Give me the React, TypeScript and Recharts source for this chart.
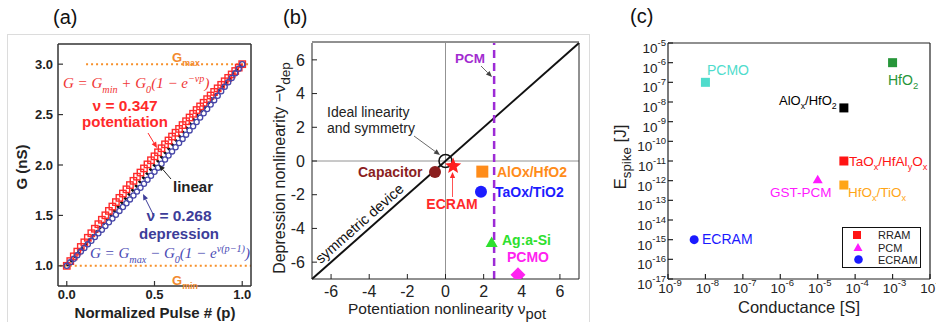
import React from "react";
import { ComposedChart, Scatter, XAxis, YAxis, ReferenceLine } from "recharts";

const FONT = "'Liberation Sans', Arial, sans-serif";
const SERIF = "'Liberation Serif', 'DejaVu Serif', serif";

// ---------- (a) conductance vs normalized pulse ----------
const pulse = [
  0, 0.02, 0.04, 0.06, 0.08, 0.1, 0.12, 0.14, 0.16, 0.18, 0.2, 0.22, 0.24, 0.26, 0.28, 0.3, 0.32,
  0.34, 0.36, 0.38, 0.4, 0.42, 0.44, 0.46, 0.48, 0.5, 0.52, 0.54, 0.56, 0.58, 0.6, 0.62, 0.64, 0.66,
  0.68, 0.7, 0.72, 0.74, 0.76, 0.78, 0.8, 0.82, 0.84, 0.86, 0.88, 0.9, 0.92, 0.94, 0.96, 0.98, 1.0,
];
const gPotentiation = [
  1.0, 1.047, 1.094, 1.141, 1.187, 1.233, 1.278, 1.323, 1.368, 1.413, 1.457, 1.501, 1.545, 1.588,
  1.632, 1.674, 1.717, 1.759, 1.801, 1.843, 1.884, 1.925, 1.966, 2.006, 2.047, 2.086, 2.126, 2.166,
  2.205, 2.243, 2.282, 2.32, 2.358, 2.396, 2.434, 2.471, 2.508, 2.545, 2.581, 2.617, 2.653, 2.689,
  2.725, 2.76, 2.795, 2.83, 2.864, 2.898, 2.932, 2.966, 3.0,
];
const gDepression = [
  1.0, 1.035, 1.07, 1.106, 1.141, 1.177, 1.213, 1.249, 1.285, 1.322, 1.358, 1.395, 1.432, 1.47,
  1.507, 1.545, 1.583, 1.621, 1.659, 1.698, 1.736, 1.775, 1.814, 1.854, 1.893, 1.933, 1.973, 2.013,
  2.054, 2.094, 2.135, 2.176, 2.218, 2.259, 2.301, 2.343, 2.385, 2.427, 2.47, 2.513, 2.556, 2.599,
  2.643, 2.687, 2.731, 2.775, 2.82, 2.864, 2.909, 2.955, 3.0,
];
const linearP = [0, 1];
const linearG = [1, 3];
const gMax = 3;
const gMin = 1;
const gMaxSpan = [0.11, 1.05];
const gMinSpan = [-0.04, 1.05];
const aXTicks = [0, 0.5, 1];
const aYTicks = [1, 1.5, 2, 2.5, 3];

// ---------- (b) nonlinearity map ----------
const bDevices = ["Capacitor", "ECRAM", "AlOx/HfO2", "TaOx/TiO2", "Ag:a-Si", "PCMO"];
const nuPot = [-0.55, 0.4, 1.93, 1.86, 2.42, 3.8];
const nuDep = [-0.65, -0.3, -0.63, -1.82, -4.85, -6.75];
const idealNuPot = [0];
const idealNuDep = [0];
const pcmNuPot = 2.55;
const diagNu = [-7, 7];
const bTicks = [-6, -4, -2, 0, 2, 4, 6];
const bMinorTicks = [-7, -5, -3, -1, 1, 3, 5, 7];

// ---------- (c) energy per spike vs conductance ----------
const cDevices = ["PCMO", "HfO2", "AlOx/HfO2", "TaOx/HfAlyOx", "HfOx/TiOx", "GST-PCM", "ECRAM"];
const conductance = [1e-8, 1e-3, 5e-5, 5e-5, 5e-5, 1e-5, 5e-9];
const eSpike = [1e-7, 1e-6, 5e-9, 1e-11, 6e-13, 1.1e-12, 1e-15];
const cXTicks = [1e-9, 1e-8, 1e-7, 1e-6, 1e-5, 1e-4, 1e-3, 1e-2];
const cYTicks = [1e-17, 1e-16, 1e-15, 1e-14, 1e-13, 1e-12, 1e-11, 1e-10, 1e-9, 1e-8, 1e-7, 1e-6, 1e-5];

// styles
const bStyle: Record<string, { color: string; shape: string }> = {
  Capacitor: { color: "#8b1e1e", shape: "circle" },
  ECRAM: { color: "#ff1f1f", shape: "star" },
  "AlOx/HfO2": { color: "#ff8c1a", shape: "square" },
  "TaOx/TiO2": { color: "#1c1cff", shape: "circle" },
  "Ag:a-Si": { color: "#2ee02e", shape: "triangle" },
  PCMO: { color: "#ff22f0", shape: "diamond" },
};
const cStyle: Record<string, { color: string; shape: string }> = {
  PCMO: { color: "#4fdccc", shape: "square" },
  HfO2: { color: "#27963a", shape: "square" },
  "AlOx/HfO2": { color: "#000000", shape: "square" },
  "TaOx/HfAlyOx": { color: "#ff1414", shape: "square" },
  "HfOx/TiOx": { color: "#ffa516", shape: "square" },
  "GST-PCM": { color: "#ff1aff", shape: "triangle" },
  ECRAM: { color: "#1a1aff", shape: "circle" },
};

const starPath = (cx: number, cy: number, R: number, r: number) => {
  let d = "";
  for (let i = 0; i < 10; i++) {
    const rad = i % 2 === 0 ? R : r;
    const a = -Math.PI / 2 + (i * Math.PI) / 5;
    d += (i === 0 ? "M" : "L") + (cx + rad * Math.cos(a)).toFixed(2) + "," + (cy + rad * Math.sin(a)).toFixed(2);
  }
  return d + "Z";
};

const marker = (shape: string, color: string, s: number) => (props: any) => {
  const { cx, cy } = props;
  if (cx == null || cy == null) return <g />;
  if (shape === "square")
    return <rect x={cx - s / 2} y={cy - s / 2} width={s} height={s} fill={color} />;
  if (shape === "circle") return <circle cx={cx} cy={cy} r={s / 2} fill={color} />;
  if (shape === "triangle") {
    const h = s * 0.87;
    return <path d={`M${cx},${cy - h * 0.6}L${cx + s / 2},${cy + h * 0.4}L${cx - s / 2},${cy + h * 0.4}Z`} fill={color} />;
  }
  if (shape === "diamond") {
    const r = s / 2;
    return <path d={`M${cx},${cy - r}L${cx + r},${cy}L${cx},${cy + r}L${cx - r},${cy}Z`} fill={color} />;
  }
  if (shape === "star") return <path d={starPath(cx, cy, s / 2, s / 4.6)} fill={color} />;
  return <g />;
};

type Part = { t: string; s?: "sub" | "sup" };
const rich = (parts: Part[], size: number, subScale = 0.68) => {
  let shift = 0;
  return parts.map((p, i) => {
    const target = p.s === "sub" ? size * 0.3 : p.s === "sup" ? -size * 0.42 : 0;
    const dy = target - shift;
    shift = target;
    return (
      <tspan key={i} dy={dy} fontSize={p.s ? size * subScale : size}>
        {p.t}
      </tspan>
    );
  });
};

const AX_A = "#333";
const AX_B = "#222";

function PanelA() {
  const pot = pulse.map((p, i) => ({ p, g: gPotentiation[i] }));
  const dep = pulse.map((p, i) => ({ p, g: gDepression[i] }));
  const tickStyle = { fontSize: 13, fontWeight: 700, fill: "#222", fontFamily: FONT };
  const f1 = (v: number) => v.toFixed(1);
  const dom: [number, number] = [-0.05, 1.05];
  const ydom: [number, number] = [0.8, 3.2];
  return (
    <ComposedChart width={260} height={322} margin={{ top: 43, right: 8, bottom: 35, left: 57 }}>
      <XAxis type="number" dataKey="p" domain={dom} ticks={aXTicks} tickFormatter={f1} height={1} interval={0}
        tickSize={-5} tickMargin={9} allowDataOverflow axisLine={{ stroke: AX_A, strokeWidth: 1.5 }}
        tickLine={{ stroke: AX_A, strokeWidth: 1.2 }} tick={tickStyle} />
      <XAxis xAxisId="top" orientation="top" type="number" domain={dom} ticks={aXTicks} height={1} interval={0}
        tickSize={-5} allowDataOverflow axisLine={{ stroke: AX_A, strokeWidth: 1.5 }}
        tickLine={{ stroke: AX_A, strokeWidth: 1.2 }} tick={false} />
      <YAxis type="number" dataKey="g" domain={ydom} ticks={aYTicks} tickFormatter={f1} width={1} interval={0}
        tickSize={-5} tickMargin={10} allowDataOverflow axisLine={{ stroke: AX_A, strokeWidth: 1.5 }}
        tickLine={{ stroke: AX_A, strokeWidth: 1.2 }} tick={tickStyle} />
      <YAxis yAxisId="right" orientation="right" type="number" domain={ydom} ticks={aYTicks} width={1} interval={0}
        tickSize={-5} allowDataOverflow axisLine={{ stroke: AX_A, strokeWidth: 1.5 }}
        tickLine={{ stroke: AX_A, strokeWidth: 1.2 }} tick={false} />
      <ReferenceLine segment={[{ x: gMaxSpan[0], y: gMax }, { x: gMaxSpan[1], y: gMax }]}
        stroke="#f7902a" strokeWidth={2} strokeDasharray="2 3" ifOverflow="visible" />
      <ReferenceLine segment={[{ x: gMinSpan[0], y: gMin }, { x: gMinSpan[1], y: gMin }]}
        stroke="#f7902a" strokeWidth={2} strokeDasharray="2 3" ifOverflow="visible" />
      <Scatter data={pot} dataKey="g" isAnimationActive={false}
        shape={(props: any) => (
          <rect x={props.cx - 3.2} y={props.cy - 3.2} width={6.4} height={6.4} fill="none" stroke="#ff2b2b" strokeWidth={1.4} />
        )} />
      <Scatter data={dep} dataKey="g" isAnimationActive={false}
        shape={(props: any) => (
          <circle cx={props.cx} cy={props.cy} r={2.6} fill="none" stroke="#4646a8" strokeWidth={1.3} />
        )} />
      <ReferenceLine segment={[{ x: linearP[0], y: linearG[0] }, { x: linearP[1], y: linearG[1] }]}
        stroke="#111" strokeWidth={3} strokeDasharray="2.5 3" />
    </ComposedChart>
  );
}

function PanelB() {
  const tickStyle = { fontSize: 16, fill: "#222", fontFamily: FONT };
  const dom: [number, number] = [-7, 7];
  const common = { type: "number" as const, domain: dom, allowDataOverflow: true, interval: 0 as const };
  const line = { stroke: AX_B, strokeWidth: 1 };
  return (
    <ComposedChart width={330} height={322} margin={{ top: 41, right: 9, bottom: 41, left: 50 }}>
      <XAxis {...common} dataKey="x" ticks={bTicks} height={1} tickSize={-5} tickMargin={12}
        axisLine={line} tickLine={line} tick={tickStyle} />
      <XAxis {...common} xAxisId="top" orientation="top" ticks={bTicks} height={1} tickSize={-5}
        axisLine={line} tickLine={line} tick={false} />
      <XAxis {...common} xAxisId="bm" ticks={bMinorTicks} height={1} tickSize={-3}
        axisLine={false} tickLine={line} tick={false} />
      <XAxis {...common} xAxisId="tm" orientation="top" ticks={bMinorTicks} height={1} tickSize={-3}
        axisLine={false} tickLine={line} tick={false} />
      <YAxis {...common} dataKey="y" ticks={bTicks} width={1} tickSize={-5} tickMargin={12}
        axisLine={line} tickLine={line} tick={tickStyle} />
      <YAxis {...common} yAxisId="right" orientation="right" ticks={bTicks} width={1} tickSize={-5}
        axisLine={line} tickLine={line} tick={false} />
      <YAxis {...common} yAxisId="lm" ticks={bMinorTicks} width={1} tickSize={-3}
        axisLine={false} tickLine={line} tick={false} />
      <YAxis {...common} yAxisId="rm" orientation="right" ticks={bMinorTicks} width={1} tickSize={-3}
        axisLine={false} tickLine={line} tick={false} />
      <ReferenceLine x={0} stroke="#777" strokeWidth={0.8} />
      <ReferenceLine y={0} stroke="#777" strokeWidth={0.8} />
      <ReferenceLine segment={[{ x: diagNu[0], y: diagNu[0] }, { x: diagNu[1], y: diagNu[1] }]}
        stroke="#111" strokeWidth={2} />
      <ReferenceLine x={pcmNuPot} stroke="#9d2bd6" strokeWidth={2.5} strokeDasharray="8 5" />
      <Scatter data={idealNuPot.map((x, i) => ({ x, y: idealNuDep[i] }))} dataKey="y" isAnimationActive={false}
        shape={(props: any) => <circle cx={props.cx} cy={props.cy} r={6.5} fill="none" stroke="#111" strokeWidth={1.5} />} />
      {bDevices.map((d, i) => (
        <Scatter key={d} name={d} data={[{ x: nuPot[i], y: nuDep[i] }]} dataKey="y" isAnimationActive={false}
          shape={marker(bStyle[d].shape, bStyle[d].color, bStyle[d].shape === "star" ? 17 : bStyle[d].shape === "diamond" ? 15 : 12)} />
      ))}
    </ComposedChart>
  );
}

const powX = (props: any) => {
  const { x, y, payload } = props;
  const e = Math.round(Math.log10(payload.value));
  return (
    <text x={x + 2} y={y} textAnchor="middle" fontFamily={FONT} fill="#222">
      <tspan fontSize={13.5}>10</tspan>
      <tspan fontSize={9.5} dy={-7}>{e}</tspan>
    </text>
  );
};
const powY = (props: any) => {
  const { x, y, payload } = props;
  const e = Math.round(Math.log10(payload.value));
  return (
    <text x={x} y={y + 10} textAnchor="end" fontFamily={FONT} fill="#222">
      <tspan fontSize={13.5}>10</tspan>
      <tspan fontSize={9.5} dy={-7.5}>{e}</tspan>
    </text>
  );
};

function PanelC() {
  const line = { stroke: "#222", strokeWidth: 1.2 };
  const xd: [number, number] = [1e-9, 1e-2];
  const yd: [number, number] = [1e-17, 1e-5];
  return (
    <ComposedChart width={346} height={322} margin={{ top: 42, right: 5, bottom: 42, left: 77 }}>
      <XAxis type="number" scale="log" dataKey="x" domain={xd} ticks={cXTicks} height={1} tickSize={-5} interval={0}
        tickMargin={19} allowDataOverflow axisLine={line} tickLine={line} tick={powX} />
      <XAxis xAxisId="top" orientation="top" type="number" scale="log" domain={xd} ticks={cXTicks} height={1} interval={0}
        tickSize={-5} allowDataOverflow axisLine={line} tickLine={line} tick={false} />
      <YAxis type="number" scale="log" dataKey="y" domain={yd} ticks={cYTicks} width={1} tickSize={-5} interval={0}
        tickMargin={7} allowDataOverflow axisLine={line} tickLine={line} tick={powY} />
      <YAxis yAxisId="right" orientation="right" type="number" scale="log" domain={yd} ticks={cYTicks} width={1} interval={0}
        tickSize={-5} allowDataOverflow axisLine={line} tickLine={line} tick={false} />
      {cDevices.map((d, i) => (
        <Scatter key={d} name={d} data={[{ x: conductance[i], y: eSpike[i] }]} dataKey="y" isAnimationActive={false}
          shape={marker(cStyle[d].shape, cStyle[d].color, cStyle[d].shape === "triangle" ? 10 : 9)} />
      ))}
    </ComposedChart>
  );
}

const Arrow = ({ x1, y1, x2, y2, color, w = 1 }: { x1: number; y1: number; x2: number; y2: number; color: string; w?: number }) => {
  const a = Math.atan2(y2 - y1, x2 - x1);
  const L = 6, W = 2.6;
  const bx = x2 - L * Math.cos(a), by = y2 - L * Math.sin(a);
  const px = -Math.sin(a) * W, py = Math.cos(a) * W;
  return (
    <g>
      <line x1={x1} y1={y1} x2={bx} y2={by} stroke={color} strokeWidth={w} />
      <path d={`M${x2},${y2}L${bx + px},${by + py}L${bx - px},${by - py}Z`} fill={color} />
    </g>
  );
};

function Overlay() {
  const orange = "#f28a2e";
  const red = "#ff2a2a";
  const navy = "#3d3d99";
  return (
    <svg width={936} height={322} style={{ position: "absolute", left: 0, top: 0, pointerEvents: "none" }} fontFamily={FONT}>
      <rect x={7.5} y={34.5} width={582} height={300} fill="none" stroke="#dcdcdc" strokeWidth={1} />
      {/* (a) */}
      <text x={53} y={24} fontSize={20} fill="#111">(a)</text>
      <text x={172} y={62} fontSize={13} fontWeight={700} fill={orange}>{rich([{ t: "G" }, { t: "max", s: "sub" }], 13)}</text>
      <text x={172} y={285} fontSize={13} fontWeight={700} fill={orange}>{rich([{ t: "G" }, { t: "min", s: "sub" }], 13)}</text>
      <text x={63} y={88} fontFamily={SERIF} fontStyle="italic" fill="#f03535">
        {rich([{ t: "G = G" }, { t: "min", s: "sub" }, { t: " + G" }, { t: "0", s: "sub" }, { t: "(1 − e" }, { t: "−νp", s: "sup" }, { t: ")" }], 15)}
      </text>
      <text x={125} y={111} textAnchor="middle" fontSize={15.5} fontWeight={700} fill={red}>ν = 0.347</text>
      <text x={125} y={127} textAnchor="middle" fontSize={15} fontWeight={700} fill={red}>potentiation</text>
      <Arrow x1={148} y1={133} x2={157} y2={148} color={red} />
      <text x={173} y={192} fontSize={15} fontWeight={700} fill="#222">linear</text>
      <Arrow x1={171} y1={179} x2={159} y2={165} color="#222" />
      <text x={179} y={221} textAnchor="middle" fontSize={15.5} fontWeight={700} fill={navy}>ν = 0.268</text>
      <text x={179} y={239} textAnchor="middle" fontSize={15} fontWeight={700} fill={navy}>depression</text>
      <Arrow x1={154} y1={216} x2={143} y2={194} color={navy} />
      <text x={90} y={258} fontFamily={SERIF} fontStyle="italic" fill="#4a4ab4">
        {rich([{ t: "G = G" }, { t: "max", s: "sub" }, { t: " − G" }, { t: "0", s: "sub" }, { t: "(1 − e" }, { t: "ν(p−1)", s: "sup" }, { t: ")" }], 15)}
      </text>
      <text transform="translate(27,167) rotate(-90)" textAnchor="middle" fontSize={15} fontWeight={700} fill="#222">G (nS)</text>
      <text x={155} y={318} textAnchor="middle" fontSize={15} fontWeight={700} fill="#222">Normalized Pulse # (p)</text>

      {/* (b) */}
      <text x={283} y={24} fontSize={20} fill="#111">(b)</text>
      <text x={455} y={63} fontSize={13.5} fontWeight={700} fill="#a22bd0">PCM</text>
      <Arrow x1={481} y1={66} x2={492} y2={77} color="#444" w={0.8} />
      <text x={327} y={117} fontSize={14} fill="#222">Ideal linearity</text>
      <text x={327} y={133} fontSize={14} fill="#222">and symmetry</text>
      <Arrow x1={414} y1={136} x2={440} y2={155} color="#444" w={0.8} />
      <text x={358} y={177} fontSize={14} fontWeight={700} fill="#8b1e1e">Capacitor</text>
      <text x={452} y={209} textAnchor="middle" fontSize={14} fontWeight={700} fill={red}>ECRAM</text>
      <Arrow x1={452.5} y1={197} x2={452.5} y2={172} color={red} w={0.8} />
      <text x={497} y={177} fontSize={14} fontWeight={700} fill="#ff8c1a">AlOx/HfO2</text>
      <text x={495} y={197} fontSize={14} fontWeight={700} fill="#1c1cff">TaOx/TiO2</text>
      <text x={502} y={245} fontSize={14} fontWeight={700} fill="#2ee02e">Ag:a-Si</text>
      <text x={507} y={262} fontSize={14} fontWeight={700} fill="#ff22f0">PCMO</text>
      <text transform="translate(366,231) rotate(-41.3)" x={0} y={-5} textAnchor="middle" fontSize={14.5} fill="#111">symmetric device</text>
      <text transform="translate(285,168) rotate(-90)" textAnchor="middle" fill="#222">
        {rich([{ t: "Depression nonlinearity −ν" }, { t: "dep", s: "sub" }], 16, 0.85)}
      </text>
      <text x={348} y={314} fill="#222">
        {rich([{ t: "Potentiation nonlinearity ν" }, { t: "pot", s: "sub" }], 15.5, 0.95)}
      </text>

      {/* (c) */}
      <text x={630} y={23} fontSize={20} fill="#111">(c)</text>
      <text x={707} y={75} fontSize={14} fill="#4fdccc">PCMO</text>
      <text x={888} y={85} fill="#27963a">{rich([{ t: "HfO" }, { t: "2", s: "sub" }], 14)}</text>
      <text x={779} y={105} fill="#000">{rich([{ t: "AlO" }, { t: "x", s: "sub" }, { t: "/HfO" }, { t: "2", s: "sub" }], 13)}</text>
      <text x={849} y={166} fill="#ff1414">{rich([{ t: "TaO" }, { t: "x", s: "sub" }, { t: "/HfAl" }, { t: "y", s: "sub" }, { t: "O" }, { t: "x", s: "sub" }], 13.5)}</text>
      <text x={770} y={197} fontSize={13.5} fill="#ff1aff">GST-PCM</text>
      <text x={848} y={197} fill="#ffa516">{rich([{ t: "HfO" }, { t: "x", s: "sub" }, { t: "/TiO" }, { t: "x", s: "sub" }], 13.5)}</text>
      <text x={702} y={244} fontSize={14} fill="#1a1aff">ECRAM</text>
      <rect x={842.5} y={227.5} width={78} height={40} fill="#fff" stroke="#111" strokeWidth={1} />
      <rect x={853} y={231} width={8} height={8} fill="#ff1414" />
      <path d="M858,243L862.5,251L853.5,251Z" fill="#ff1aff" />
      <circle cx={858.5} cy={259.5} r={4.3} fill="#1a1aff" />
      <text x={878} y={239} fontSize={11} fill="#222">RRAM</text>
      <text x={878} y={252} fontSize={11} fill="#222">PCM</text>
      <text x={878} y={264} fontSize={11} fill="#222">ECRAM</text>
      <text transform="translate(626,157) rotate(-90)" textAnchor="middle" fill="#222">
        {rich([{ t: "E" }, { t: "spike", s: "sub" }, { t: " [J]" }], 17, 0.78)}
      </text>
      <text x={799} y={313} textAnchor="middle" fontSize={16.5} fill="#222" textLength={122} lengthAdjust="spacingAndGlyphs">Conductance [S]</text>
    </svg>
  );
}

export default function App() {
  return (
    <div style={{ position: "fixed", left: 0, top: 0, width: 936, height: 322, background: "#fff", overflow: "hidden", fontFamily: FONT }}>
      <div style={{ position: "absolute", left: 0, top: 0 }}><PanelA /></div>
      <div style={{ position: "absolute", left: 260, top: 0 }}><PanelB /></div>
      <div style={{ position: "absolute", left: 590, top: 0 }}><PanelC /></div>
      <Overlay />
    </div>
  );
}
